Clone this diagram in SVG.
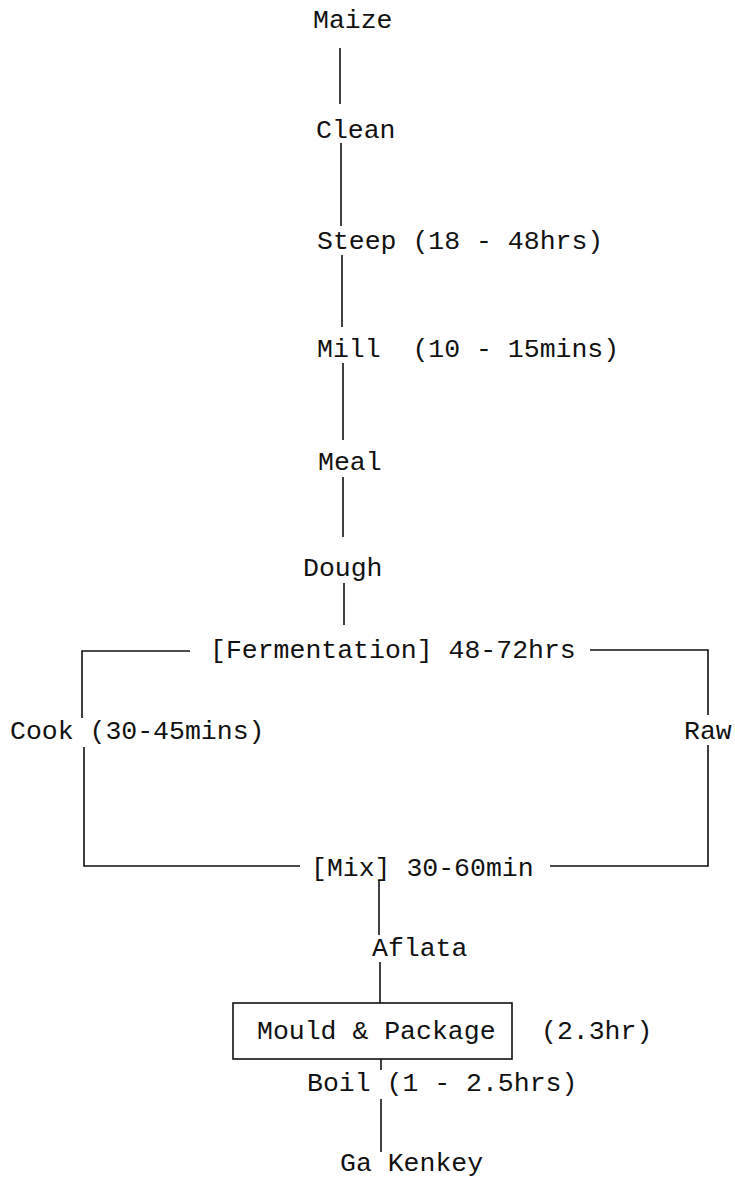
<svg xmlns="http://www.w3.org/2000/svg" width="735" height="1179" viewBox="0 0 735 1179">
<style>
text{font-family:"Liberation Mono","Courier New",monospace;font-size:26.5px;fill:#111;white-space:pre}
.c{stroke:#111;stroke-width:1.6;fill:none}
</style>
<rect width="735" height="1179" fill="#fff"/>
<g id="connectors">
<path class="c" d="M340 48V104"/>
<path class="c" d="M341 143V226"/>
<path class="c" d="M342 255V327"/>
<path class="c" d="M343 363V440"/>
<path class="c" d="M343 477V537"/>
<path class="c" d="M344 583V625"/>
<path class="c" d="M190 651H82V718"/>
<path class="c" d="M84 747V866H300"/>
<path class="c" d="M590 650H708V715"/>
<path class="c" d="M708 745V866H550"/>
<path class="c" d="M379 880V935"/>
<path class="c" d="M380 962V1003"/>
<path class="c" d="M381 1059V1070"/>
<path class="c" d="M381 1099V1152"/>
</g>
<g id="maize"><text x="313" y="28">Maize</text></g>
<g id="clean"><text x="316" y="138">Clean</text></g>
<g id="steep"><text x="317" y="249">Steep (18 - 48hrs)</text></g>
<g id="mill"><text x="317" y="357" xml:space="preserve">Mill  (10 - 15mins)</text></g>
<g id="meal"><text x="318" y="470">Meal</text></g>
<g id="dough"><text x="303" y="576">Dough</text></g>
<g id="fermentation"><text x="210" y="658">[Fermentation] 48-72hrs</text></g>
<g id="cook"><text x="10" y="739">Cook (30-45mins)</text></g>
<g id="raw"><text x="684" y="739">Raw</text></g>
<g id="mix"><text x="311" y="876">[Mix] 30-60min</text></g>
<g id="aflata"><text x="372" y="956">Aflata</text></g>
<g id="mould">
<rect x="233" y="1003" width="279" height="56" fill="none" stroke="#111" stroke-width="1.6"/>
<text x="257" y="1039">Mould &amp; Package</text>
</g>
<g id="time"><text x="541" y="1039">(2.3hr)</text></g>
<g id="boil"><text x="307" y="1091">Boil (1 - 2.5hrs)</text></g>
<g id="kenkey"><text x="340" y="1171">Ga Kenkey</text></g>
</svg>
